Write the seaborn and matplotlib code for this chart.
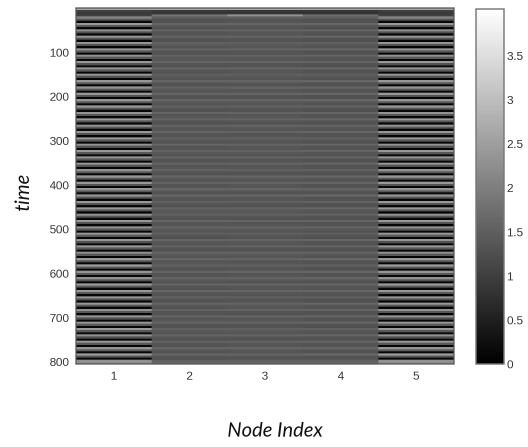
import matplotlib
matplotlib.use("Agg")
import matplotlib.pyplot as plt
import seaborn as sns
import pandas as pd
import numpy as np
import io

node_labels = [1, 2, 3, 4, 5]
y_tick_values = [100, 200, 300, 400, 500, 600, 700, 800]
cbar_tick_values = [0, 0.5, 1, 1.5, 2, 2.5, 3, 3.5]
cbar_tick_labels = ["0", "0.5", "1", "1.5", "2", "2.5", "3", "3.5"]

node_outer = [
 2.6,1.0,0.9, 1.0,2.1,1.4, 0.1,2.4,1.4, 0.1,2.3,1.3, 0.15,2.4,1.4, 0.1,2.35,1.3, 0.1,2.4,1.4, 0.1,2.3,1.4,
 0.1,2.4,1.3, 0.15,2.35,1.4, 0.1,2.4,1.3, 0.1,2.4,1.4, 0.1,2.3,1.4, 0.15,2.4,1.3, 0.1,2.35,1.4, 0.1,2.4,1.4,
 0.1,2.3,1.3, 0.1,2.4,1.4, 0.15,2.35,1.4, 0.1,2.4,1.3, 0.1,2.4,1.4, 0.1,2.3,1.3, 0.1,2.4,1.4, 0.15,2.35,1.4,
 0.1,2.4,1.3, 0.1,2.3,1.4, 0.1,2.4,1.4, 0.1,2.4,1.3, 0.15,2.35,1.4, 0.1,2.3,1.4, 0.1,2.4,1.3, 0.1,2.4,1.4,
 0.1,2.35,1.4, 0.15,2.4,1.3, 0.1,2.3,1.4, 0.1,2.4,1.4, 0.1,2.35,1.3, 0.15,2.4,1.4, 0.1,2.3,1.4, 0.1,2.4,1.3,
 0.1,2.4,1.4, 0.1,2.35,1.4, 0.15,2.3,1.3, 0.1,2.4,1.4, 0.1,2.4,1.4, 0.1,2.35,1.3, 0.15,2.4,1.4, 0.1,2.3,1.4,
 0.1,2.4,1.3, 0.1,2.35,1.4, 0.1,2.4,1.4, 0.15,2.3,1.3, 0.1,2.4,1.4, 0.1,2.35,1.4, 0.1,2.4,1.3, 0.1,2.3,2.2,
]
node_2 = [
 2.6,0.9,0.85, 1.8,1.5,1.3, 1.35,1.6,1.4, 1.3,1.55,1.35, 1.35,1.6,1.35, 1.3,1.52,1.4, 1.35,1.6,1.33, 1.3,1.55,1.4,
 1.37,1.58,1.35, 1.3,1.6,1.35, 1.35,1.52,1.4, 1.33,1.6,1.35, 1.3,1.55,1.37, 1.35,1.58,1.35, 1.3,1.6,1.4, 1.35,1.52,1.33,
 1.3,1.6,1.35, 1.37,1.55,1.35, 1.3,1.58,1.4, 1.35,1.6,1.35, 1.33,1.52,1.37, 1.3,1.6,1.35, 1.35,1.55,1.4, 1.3,1.58,1.33,
 1.35,1.6,1.35, 1.37,1.52,1.35, 1.3,1.6,1.4, 1.33,1.55,1.35, 1.35,1.58,1.37, 1.3,1.6,1.35, 1.35,1.52,1.33, 1.3,1.6,1.4,
 1.37,1.55,1.35, 1.3,1.58,1.35, 1.35,1.6,1.4, 1.33,1.52,1.35, 1.3,1.6,1.37, 1.35,1.55,1.33, 1.3,1.58,1.4, 1.35,1.6,1.35,
 1.37,1.52,1.35, 1.3,1.6,1.33, 1.35,1.55,1.4, 1.3,1.58,1.35, 1.35,1.6,1.37, 1.33,1.52,1.35, 1.3,1.6,1.4, 1.35,1.55,1.33,
 1.3,1.58,1.35, 1.37,1.6,1.35, 1.3,1.52,1.4, 1.35,1.6,1.33, 1.3,1.55,1.35, 1.35,1.58,1.37, 1.33,1.6,1.35, 1.3,1.52,1.6,
]
node_3 = [
 2.6,0.85,0.85, 2.3,1.5,1.32, 1.36,1.58,1.38, 1.32,1.56,1.36, 1.36,1.6,1.34, 1.32,1.54,1.4, 1.36,1.58,1.34, 1.3,1.56,1.38,
 1.36,1.58,1.34, 1.32,1.6,1.36, 1.36,1.54,1.4, 1.34,1.6,1.36, 1.3,1.56,1.38, 1.36,1.58,1.34, 1.32,1.6,1.4, 1.36,1.54,1.34,
 1.32,1.6,1.36, 1.38,1.56,1.36, 1.3,1.58,1.4, 1.36,1.6,1.34, 1.34,1.54,1.38, 1.32,1.6,1.36, 1.36,1.56,1.4, 1.3,1.58,1.34,
 1.36,1.6,1.36, 1.38,1.54,1.34, 1.32,1.6,1.4, 1.34,1.56,1.36, 1.36,1.58,1.38, 1.3,1.6,1.34, 1.36,1.54,1.34, 1.32,1.6,1.4,
 1.38,1.56,1.36, 1.3,1.58,1.34, 1.36,1.6,1.4, 1.34,1.54,1.36, 1.32,1.6,1.38, 1.36,1.56,1.34, 1.3,1.58,1.4, 1.36,1.6,1.34,
 1.38,1.54,1.36, 1.32,1.6,1.34, 1.36,1.56,1.4, 1.3,1.58,1.36, 1.36,1.6,1.38, 1.34,1.54,1.34, 1.32,1.6,1.4, 1.36,1.56,1.34,
 1.3,1.58,1.36, 1.38,1.6,1.34, 1.32,1.54,1.4, 1.36,1.6,1.34, 1.3,1.56,1.36, 1.36,1.58,1.38, 1.34,1.6,1.36, 1.32,1.54,1.6,
]
node_4 = [
 2.6,0.85,0.8, 1.7,1.5,1.3, 1.32,1.62,1.36, 1.28,1.58,1.32, 1.32,1.62,1.3, 1.28,1.54,1.36, 1.32,1.62,1.3, 1.3,1.58,1.36,
 1.34,1.6,1.3, 1.28,1.62,1.32, 1.32,1.54,1.36, 1.3,1.62,1.32, 1.28,1.58,1.34, 1.32,1.6,1.3, 1.3,1.62,1.36, 1.32,1.54,1.3,
 1.28,1.62,1.32, 1.34,1.58,1.32, 1.3,1.6,1.36, 1.32,1.62,1.3, 1.3,1.54,1.34, 1.28,1.62,1.32, 1.32,1.58,1.36, 1.3,1.6,1.3,
 1.32,1.62,1.32, 1.34,1.54,1.3, 1.28,1.62,1.36, 1.3,1.58,1.32, 1.32,1.6,1.34, 1.3,1.62,1.3, 1.32,1.54,1.3, 1.28,1.62,1.36,
 1.34,1.58,1.32, 1.3,1.6,1.3, 1.32,1.62,1.36, 1.3,1.54,1.32, 1.28,1.62,1.34, 1.32,1.58,1.3, 1.3,1.6,1.36, 1.32,1.62,1.3,
 1.34,1.54,1.32, 1.28,1.62,1.3, 1.32,1.58,1.36, 1.3,1.6,1.32, 1.32,1.62,1.34, 1.3,1.54,1.3, 1.28,1.62,1.36, 1.32,1.58,1.3,
 1.3,1.6,1.32, 1.34,1.62,1.3, 1.28,1.54,1.36, 1.32,1.62,1.3, 1.3,1.58,1.32, 1.32,1.6,1.34, 1.3,1.62,1.32, 1.28,1.54,1.6,
]

time_span = 805
W, H = 528, 447
SS = 3

df = pd.DataFrame({1: node_outer, 2: node_2, 3: node_3, 4: node_4, 5: node_outer})
row_height = time_span / len(df)

sns.set_theme(style="white", rc={"font.family": ["Liberation Sans", "DejaVu Sans"]})
fig = plt.figure(figsize=(W / 100, H / 100), dpi=100)
ax = fig.add_axes([76 / W, 1 - 364 / H, (454 - 76) / W, (364 - 8) / H])
cax = fig.add_axes([476 / W, 1 - 364 / H, (504 - 476) / W, (364 - 9) / H])

sns.heatmap(df, ax=ax, cbar_ax=cax, cmap="gray", vmin=0, vmax=4.03,
            xticklabels=False, yticklabels=False, linewidths=0)

text_color = "#333333"
ax.set_xticks([i + 0.5 for i in range(len(node_labels))])
ax.set_xticklabels(node_labels, rotation=0, fontsize=8.5, color=text_color)
ax.set_yticks([v / row_height for v in y_tick_values])
ax.set_yticklabels(y_tick_values, rotation=0, fontsize=8.5, color=text_color)
ax.tick_params(axis="both", which="both", direction="in", length=3, width=0.8,
               color="#333333", top=True, right=True, bottom=True, left=True, pad=5)
for s in ax.spines.values():
    s.set_visible(True)
    s.set_color("#555555")
    s.set_linewidth(0.9)

cax.set_yticks(cbar_tick_values)
cax.set_yticklabels(cbar_tick_labels, fontsize=8.5, color=text_color)
cax.tick_params(axis="y", which="both", direction="in", length=2.5, width=0.8,
                color="#555555", left=True, right=True, pad=2)
for s in cax.spines.values():
    s.set_visible(True)
    s.set_color("#777777")
    s.set_linewidth(1.0)

fig.text(275 / W, 1 - 431 / H, "Node Index", ha="center", va="center",
         family="Lato", style="italic", fontsize=14.5, color="#111111")
fig.text(23 / W, 1 - 192 / H, "time", ha="center", va="center", rotation=90,
         family="Lato", style="italic", fontsize=14.5, color="#111111")

# The reference is a soft, slightly blurred bitmap: render larger and average down.
buf = io.BytesIO()
fig.savefig(buf, format="png", dpi=100 * SS, facecolor="white")
buf.seek(0)
img = plt.imread(buf)[:, :, :3]
h, w = img.shape[0] // SS, img.shape[1] // SS
small = img[:h * SS, :w * SS].reshape(h, SS, w, SS, 3).mean(axis=(1, 3))
plt.imsave("out.png", np.clip(small, 0, 1))
